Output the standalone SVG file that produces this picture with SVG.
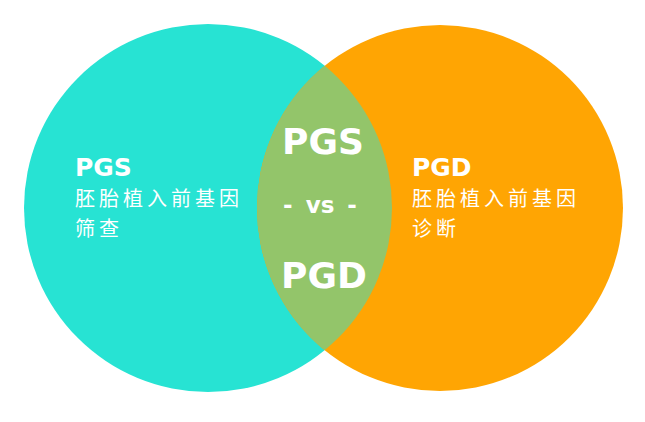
<svg xmlns="http://www.w3.org/2000/svg" width="645" height="422" viewBox="0 0 645 422">
<style>
.lbl{font-family:"DejaVu Sans","Liberation Sans",sans-serif;font-weight:bold;fill:#fff}
.cn{font-family:"Noto Sans CJK SC","Noto Sans CJK JP",sans-serif;font-weight:400;fill:#fff;font-size:20px;letter-spacing:4px}
</style>
<defs>
<clipPath id="clipL"><circle cx="208" cy="208" r="184"/></clipPath>
</defs>
<rect width="645" height="422" fill="#fff"/>
<g id="pgs">
<circle cx="208" cy="208" r="184" fill="#27E3D3"/>
<text class="lbl" x="75" y="176" font-size="25">PGS</text>
<text class="cn" x="75" y="206">胚胎植入前基因</text>
<text class="cn" x="75" y="236">筛查</text>
</g>
<g id="pgd">
<circle cx="440" cy="208" r="183" fill="#FFA503"/>
<text class="lbl" x="412" y="176" font-size="25">PGD</text>
<text class="cn" x="412" y="206">胚胎植入前基因</text>
<text class="cn" x="412" y="236">诊断</text>
</g>
<g id="overlap">
<circle cx="440" cy="208" r="183" fill="#93C56A" clip-path="url(#clipL)"/>
<text class="lbl" x="323" y="154" font-size="36" text-anchor="middle">PGS</text>
<text class="lbl" x="320" y="213" font-size="23" text-anchor="middle" word-spacing="5">- vs -</text>
<text class="lbl" x="324" y="288" font-size="36" text-anchor="middle">PGD</text>
</g>
</svg>
